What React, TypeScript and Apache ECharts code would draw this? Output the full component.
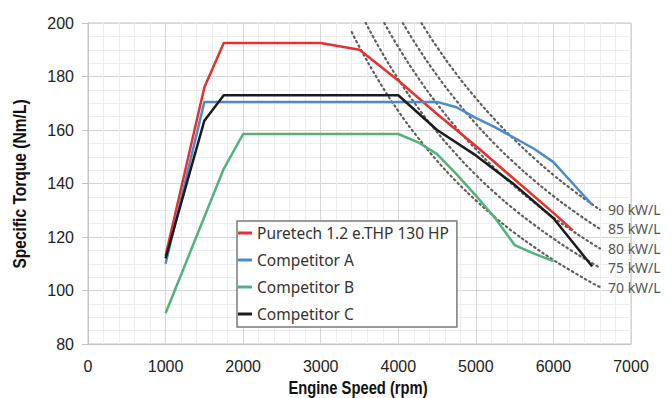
import { useEffect, useRef } from "react";
import * as echarts from "echarts";

// Main torque curves (rpm, Nm/L)
const pureRpm = [1000, 1500, 1750, 3000, 3500, 4000, 4500, 5000, 5500, 6000, 6250];
const pureTorque = [113, 176, 192.5, 192.5, 190, 178.5, 166, 154, 141.5, 129, 122.5];

const compARpm = [1000, 1500, 4500, 4750, 5000, 5250, 5500, 5750, 6000, 6250, 6500];
const compATorque = [110, 170.5, 170.5, 168.5, 164.5, 161, 157, 153, 148, 140, 132];

const compBRpm = [1000, 1750, 2000, 4000, 4250, 4500, 4750, 5000, 5250, 5500, 5750, 6000];
const compBTorque = [91.5, 145.5, 158.5, 158.5, 155.5, 151, 143.5, 135.5, 127, 117, 113.8, 111];

const compCRpm = [1000, 1500, 1750, 4000, 4500, 5000, 5500, 6000, 6500];
const compCTorque = [112, 163.5, 173, 173, 160, 150.5, 139.5, 127, 109];

// Constant specific-power reference curves (dotted)
const p90Rpm = [4300, 4500, 4750, 5000, 5250, 5500, 5750, 6000, 6250, 6500, 6600];
const p90Torque = [199.9, 191.0, 180.9, 171.9, 163.7, 156.3, 149.5, 143.2, 137.5, 132.2, 130.2];
const p85Rpm = [4060, 4250, 4500, 4750, 5000, 5250, 5500, 5750, 6000, 6250, 6500, 6600];
const p85Torque = [199.9, 191.0, 180.4, 170.9, 162.3, 154.6, 147.6, 141.2, 135.3, 129.9, 124.9, 123.0];
const p80Rpm = [3820, 4000, 4250, 4500, 4750, 5000, 5250, 5500, 5750, 6000, 6250, 6500, 6600];
const p80Torque = [200.0, 191.0, 179.8, 169.8, 160.8, 152.8, 145.5, 138.9, 132.9, 127.3, 122.2, 117.5, 115.7];
const p75Rpm = [3580, 3750, 4000, 4250, 4500, 4750, 5000, 5250, 5500, 5750, 6000, 6250, 6500, 6600];
const p75Torque = [200.1, 191.0, 179.0, 168.5, 159.2, 150.8, 143.2, 136.4, 130.2, 124.6, 119.4, 114.6, 110.2, 108.5];
const p70Rpm = [3400, 3500, 3750, 4000, 4250, 4500, 4750, 5000, 5250, 5500, 5750, 6000, 6250, 6500, 6600];
const p70Torque = [196.6, 191.0, 178.3, 167.1, 157.3, 148.5, 140.7, 133.7, 127.3, 121.5, 116.3, 111.4, 107.0, 102.8, 101.3];

const mainSeries = [
  { name: "Puretech 1.2 e.THP 130 HP", rpm: pureRpm, torque: pureTorque, color: "#e8302e" },
  { name: "Competitor A", rpm: compARpm, torque: compATorque, color: "#4a8ccb" },
  { name: "Competitor B", rpm: compBRpm, torque: compBTorque, color: "#52b27a" },
  { name: "Competitor C", rpm: compCRpm, torque: compCTorque, color: "#1c1c1c" },
];

const powerSeries = [
  { name: "90 kW/L", rpm: p90Rpm, torque: p90Torque },
  { name: "85 kW/L", rpm: p85Rpm, torque: p85Torque },
  { name: "80 kW/L", rpm: p80Rpm, torque: p80Torque },
  { name: "75 kW/L", rpm: p75Rpm, torque: p75Torque },
  { name: "70 kW/L", rpm: p70Rpm, torque: p70Torque },
];

const xAxisTitle = "Engine Speed (rpm)";
const yAxisTitle = "Specific Torque (Nm/L)";

const zip = (xs: number[], ys: number[]) => xs.map((x, i) => [x, ys[i]]);

const tickFont = "'Liberation Sans', Arial, sans-serif";
const nameFont = "'Liberation Sans', Arial, sans-serif";
const legendFont = "'Noto Sans', 'Open Sans', sans-serif";

export default function App() {
  const ref = useRef<HTMLDivElement>(null);

  useEffect(() => {
    if (!ref.current) return;
    const chart = echarts.init(ref.current, undefined, { renderer: "svg" });
    chart.setOption({
      animation: false,
      backgroundColor: "#ffffff",
      grid: {
        left: 88,
        right: 41,
        top: 23,
        bottom: 54,
        show: true,
        borderColor: "#c4c4c4",
        borderWidth: 1,
      },
      graphic: [
        {
          type: "text",
          x: 358,
          y: 387,
          scaleX: 0.82,
          style: {
            text: xAxisTitle,
            fontFamily: nameFont,
            fontWeight: "bold",
            fontSize: 18,
            fill: "#111111",
            align: "center",
            verticalAlign: "middle",
          },
        },
        {
          type: "text",
          x: 19,
          y: 184,
          rotation: Math.PI / 2,
          scaleX: 0.82,
          style: {
            text: yAxisTitle,
            fontFamily: nameFont,
            fontWeight: "bold",
            fontSize: 19,
            fill: "#111111",
            align: "center",
            verticalAlign: "middle",
          },
        },
      ],
      legend: {
        data: mainSeries.map((s) => s.name),
        orient: "vertical",
        left: 237,
        top: 221,
        padding: [3, 8, 4, 1],
        itemGap: 9,
        itemWidth: 14,
        itemHeight: 3,
        icon: "rect",
        backgroundColor: "#ffffff",
        borderColor: "#7a7a7a",
        borderWidth: 1.5,
        borderRadius: 0,
        textStyle: {
          fontFamily: legendFont,
          fontSize: 15.5,
          color: "#333333",
          lineHeight: 18,
        },
      },
      xAxis: {
        type: "value",
        min: 0,
        max: 7000,
        interval: 1000,
        axisLine: { show: true, lineStyle: { color: "#c4c4c4" } },
        axisTick: { show: false },
        axisLabel: {
          margin: 14,
          fontFamily: tickFont,
          fontSize: 16,
          color: "#222222",
          formatter: (v: number) => String(v),
        },
        splitLine: { show: true, lineStyle: { color: "#d6d6d6", width: 1 } },
        minorTick: { show: false, splitNumber: 5 },
        minorSplitLine: { show: true, lineStyle: { color: "#ededed", width: 1 } },
      },
      yAxis: {
        type: "value",
        min: 80,
        max: 200,
        interval: 20,
        axisLine: { show: true, lineStyle: { color: "#c4c4c4" } },
        axisTick: { show: true, length: 6, lineStyle: { color: "#c4c4c4" } },
        axisLabel: {
          margin: 14,
          fontFamily: tickFont,
          fontSize: 16,
          color: "#222222",
          formatter: (v: number) => String(v),
        },
        splitLine: { show: true, lineStyle: { color: "#d6d6d6", width: 1 } },
        minorTick: { show: false, splitNumber: 4 },
        minorSplitLine: { show: true, lineStyle: { color: "#ededed", width: 1 } },
      },
      series: [
        ...powerSeries.map((s) => ({
          name: s.name,
          type: "line",
          data: zip(s.rpm, s.torque),
          smooth: true,
          symbol: "none",
          silent: true,
          z: 1,
          lineStyle: { color: "#5f5f5f", width: 2.2, type: [1.5, 3.5], cap: "round" },
          endLabel: {
            show: true,
            formatter: "{a}",
            distance: 8,
            fontFamily: legendFont,
            fontSize: 14,
            color: "#555555",
          },
        })),
        ...mainSeries.map((s) => ({
          name: s.name,
          type: "line",
          data: zip(s.rpm, s.torque),
          symbol: "none",
          z: 3,
          color: s.color,
          lineStyle: { color: s.color, width: 2.5 },
        })),
      ],
    });
    return () => chart.dispose();
  }, []);

  return (
    <div
      ref={ref}
      style={{ position: "fixed", left: 0, top: 0, width: 672, height: 398 }}
    />
  );
}
